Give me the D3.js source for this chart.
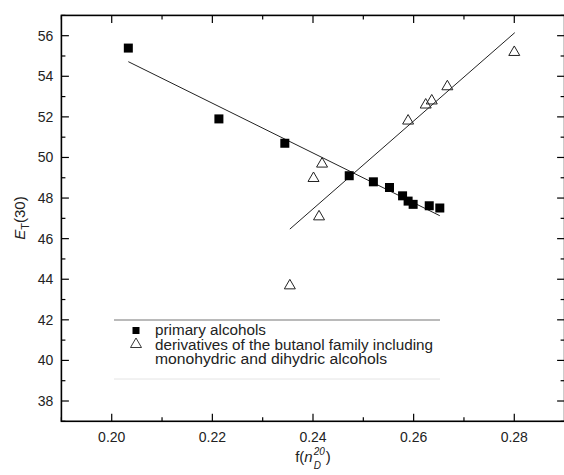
<!DOCTYPE html>
<html><head><meta charset="utf-8">
<script src="https://cdn.jsdelivr.net/npm/d3@7"></script>
<style>
body{margin:0;background:#fff;}
svg{display:block;font-family:"Liberation Sans",Arial,sans-serif;}
</style></head>
<body><svg id="c" width="564" height="475"></svg>
<script>
// Primary alcohols (filled squares)
const primaryX = [0.2033,0.2213,0.2344,0.2472,0.2520,0.2552,0.2578,0.2589,0.2599,0.2631,0.2652];
const primaryY = [55.39,51.90,50.70,49.10,48.80,48.52,48.11,47.85,47.69,47.62,47.51];
// Butanol family derivatives (open triangles)
const butanolX = [0.2418,0.2401,0.2412,0.2354,0.2589,0.2624,0.2636,0.2667,0.2800];
const butanolY = [49.76,49.05,47.16,43.76,51.88,52.67,52.87,53.57,55.26];
// Linear fit lines (end points)
const fitPrimaryX = [0.2033,0.2652];
const fitPrimaryY = [54.72,47.13];
const fitButanolX = [0.2354,0.2801];
const fitButanolY = [46.47,56.15];
// Axes
const xDomain = [0.19,0.29];
const yDomain = [37,57];
const xTicks = [0.20,0.22,0.24,0.26,0.28];
const xMinor = [0.19,0.21,0.23,0.25,0.27,0.29];
const yTicks = [38,40,42,44,46,48,50,52,54,56];
const yMinor = [37,39,41,43,45,47,49,51,53,55,57];
const legendLabels = ["primary alcohols","derivatives of the butanol family including","monohydric and dihydric alcohols"];

const svg = d3.select("#c");
const L=61.4, R=564.6, T=15.4, B=421.3;
const x = d3.scaleLinear().domain(xDomain).range([L,R]);
const y = d3.scaleLinear().domain(yDomain).range([B,T]);

// fit lines
const line = d3.line().x(d=>x(d[0])).y(d=>y(d[1]));
svg.append("path").attr("d",line(d3.zip(fitPrimaryX,fitPrimaryY)))
  .attr("stroke","#222").attr("stroke-width",1).attr("fill","none");
svg.append("path").attr("d",line(d3.zip(fitButanolX,fitButanolY)))
  .attr("stroke","#222").attr("stroke-width",1).attr("fill","none");

// squares
const sq = 9;
svg.selectAll("rect.p").data(d3.zip(primaryX,primaryY)).join("rect")
  .attr("x",d=>x(d[0])-sq/2).attr("y",d=>y(d[1])-sq/2)
  .attr("width",sq).attr("height",sq).attr("fill","#000");

// triangles
const tw=11, th=9.5;
const tri = `M0,${-th/2}L${tw/2},${th/2}L${-tw/2},${th/2}Z`;
svg.selectAll("path.t").data(d3.zip(butanolX,butanolY)).join("path")
  .attr("d",tri).attr("transform",d=>`translate(${x(d[0])},${y(d[1])})`)
  .attr("fill","none").attr("stroke","#222").attr("stroke-width",1);

// axes
const ax = svg.append("g").attr("stroke","#000");
ax.append("rect").attr("x",L).attr("y",T).attr("width",R-L).attr("height",B-T)
  .attr("fill","none").attr("stroke-width",1.6);
function tickX(v,len){
  ax.append("line").attr("x1",x(v)).attr("x2",x(v)).attr("y1",B).attr("y2",B-len).attr("stroke-width",1.2);
  ax.append("line").attr("x1",x(v)).attr("x2",x(v)).attr("y1",T).attr("y2",T+len).attr("stroke-width",1.2);
}
function tickY(v,len){
  ax.append("line").attr("y1",y(v)).attr("y2",y(v)).attr("x1",L).attr("x2",L+len).attr("stroke-width",1.2);
  ax.append("line").attr("y1",y(v)).attr("y2",y(v)).attr("x1",R).attr("x2",R-len).attr("stroke-width",1.2);
}
xTicks.forEach(v=>tickX(v,7.5));
xMinor.forEach(v=>tickX(v,4));
yTicks.forEach(v=>tickY(v,7.5));
yMinor.forEach(v=>tickY(v,4));

const fmtX = d3.format(".2f");
svg.selectAll("text.xt").data(xTicks).join("text")
  .attr("x",d=>x(d)).attr("y",B+20.5).attr("text-anchor","middle")
  .attr("font-size",14).attr("fill","#222").text(d=>fmtX(d));
svg.selectAll("text.yt").data(yTicks).join("text")
  .attr("x",L-8).attr("y",d=>y(d)+5).attr("text-anchor","end")
  .attr("font-size",14).attr("fill","#222").text(d=>d);

// x axis title: f(n_D^20) built from separately placed pieces
const xg = svg.append("g").attr("fill","#222");
const t1 = xg.append("text").attr("y",462).attr("font-size",15);
t1.append("tspan").text("f(");
t1.append("tspan").attr("font-style","italic").text("n");
const tSup = xg.append("text").attr("y",455).attr("font-size",10).attr("font-style","italic").text("20");
const tSub = xg.append("text").attr("y",468.5).attr("font-size",10).attr("font-style","italic").text("D");
const t2 = xg.append("text").attr("y",462).attr("font-size",15).text(")");
const w1 = t1.node().getComputedTextLength();
const wS = Math.max(tSup.node().getComputedTextLength(), tSub.node().getComputedTextLength());
const w2 = t2.node().getComputedTextLength();
const total = w1 + 1 + wS + 1 + w2;
const x0 = 313 - total/2;
t1.attr("x",x0);
tSup.attr("x",x0+w1+1);
tSub.attr("x",x0+w1+1);
t2.attr("x",x0+w1+1+wS+1);

const yt = svg.append("text").attr("transform","translate(25,218) rotate(-90)")
  .attr("text-anchor","middle").attr("font-size",15).attr("fill","#222");
yt.append("tspan").attr("font-style","italic").text("E");
yt.append("tspan").attr("font-size",11).attr("dy",4).text("T");
yt.append("tspan").attr("dy",-4).text("(30)");

// legend
const lg = svg.append("g");
lg.append("line").attr("x1",114).attr("x2",440).attr("y1",320).attr("y2",320)
  .attr("stroke","#777").attr("stroke-width",1.2);
lg.append("line").attr("x1",114).attr("x2",440).attr("y1",379).attr("y2",379)
  .attr("stroke","#e4e4e4").attr("stroke-width",1);
lg.append("rect").attr("x",132.5).attr("y",327).attr("width",7).attr("height",7).attr("fill","#000");
lg.append("path").attr("d",`M0,-5L5.5,4.5L-5.5,4.5Z`).attr("transform","translate(136,343)")
  .attr("fill","none").attr("stroke","#222").attr("stroke-width",0.9);
const rowsY=[335,349.5,364];
lg.selectAll("text.lg").data(legendLabels).join("text")
  .attr("x",155).attr("y",(d,i)=>rowsY[i]).attr("font-size",14).attr("fill","#222")
  .attr("textLength",(d,i)=>[111,278,232][i]).attr("lengthAdjust","spacingAndGlyphs")
  .text(d=>d);
</script></body></html>
